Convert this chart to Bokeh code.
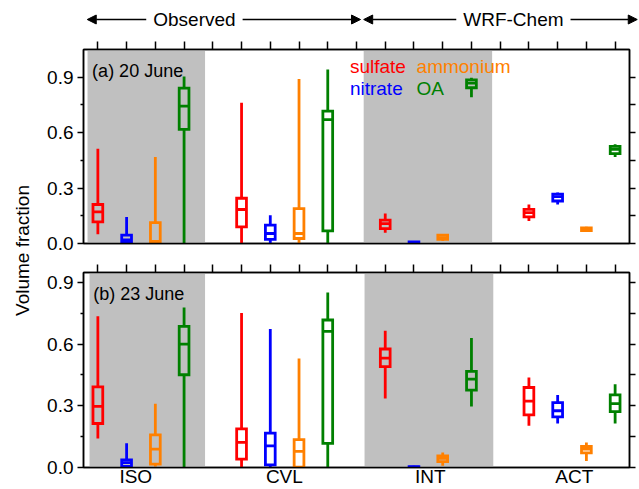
import numpy as np
from bokeh.plotting import figure
from bokeh.models import (Range1d, LinearAxis, FixedTicker, BoxAnnotation, Label,
                          Arrow, NormalHead, ColumnDataSource, PrintfTickFormatter)
from bokeh.layouts import column, row
from bokeh.embed import file_html
from bokeh.resources import INLINE

# ---------------- data ----------------
sites = ["ISO", "CVL", "INT", "ACT"]
species = ["sulfate", "nitrate", "ammonium", "OA"]
colors = ["#ff0000", "#0000ff", "#ff8000", "#008000"]
site_label_pos = [2.32, 7.49, 12.57, 17.58]
y_ticks = [0.0, 0.3, 0.6, 0.9]
y_minor = [0.15, 0.45, 0.75]

# Panel (a) 20 June; order: ISO(su,ni,am,OA), CVL(...), INT(...), ACT(...)
a_low  = [0.050, 0.000, 0.000, 0.000,  0.000, 0.000, 0.000, 0.000,
          0.058, 0.000, 0.014, 0.792,  0.122, 0.211, 0.063, 0.468]
a_q1   = [0.117, 0.010, 0.010, 0.618,  0.090, 0.022, 0.027, 0.068,
          0.081, 0.001, 0.022, 0.843,  0.144, 0.230, 0.070, 0.486]
a_med  = [0.171, 0.020, 0.012, 0.744,  0.184, 0.054, 0.054, 0.670,
          0.108, 0.004, 0.032, 0.868,  0.167, 0.254, 0.077, 0.510]
a_q3   = [0.211, 0.045, 0.113, 0.841,  0.245, 0.099, 0.189, 0.717,
          0.126, 0.008, 0.045, 0.886,  0.185, 0.267, 0.085, 0.526]
a_high = [0.513, 0.144, 0.468, 0.904,  0.762, 0.153, 0.891, 0.942,
          0.162, 0.014, 0.050, 0.897,  0.211, 0.276, 0.090, 0.537]

# Panel (b) 23 June
b_low  = [0.141, 0.000, 0.005, 0.000,  0.000, 0.000, 0.000, 0.000,
          0.336, 0.000, 0.008, 0.297,  0.203, 0.214, 0.032, 0.214]
b_q1   = [0.214, 0.005, 0.016, 0.451,  0.041, 0.013, 0.002, 0.117,
          0.490, 0.001, 0.029, 0.376,  0.256, 0.246, 0.071, 0.272]
b_med  = [0.297, 0.024, 0.089, 0.600,  0.122, 0.105, 0.078, 0.662,
          0.532, 0.002, 0.044, 0.430,  0.323, 0.276, 0.089, 0.311]
b_q3   = [0.392, 0.037, 0.159, 0.686,  0.188, 0.167, 0.136, 0.717,
          0.576, 0.004, 0.057, 0.467,  0.389, 0.315, 0.102, 0.353]
b_high = [0.735, 0.118, 0.310, 0.778,  0.751, 0.673, 0.530, 0.851,
          0.665, 0.008, 0.073, 0.629,  0.438, 0.353, 0.122, 0.405]

# ---------------- style / layout ----------------
FONT = "Liberation Sans"
BW = 0.34
LW = 2.8
GRAY = "#c0c0c0"
X0, X1 = 0.5, 19.5
LAB_W = 36
PANEL_W = 603
LEFT_B, RIGHT_B = 47, 10
FRAME_W = PANEL_W - LEFT_B - RIGHT_B
SC = FRAME_W / (X1 - X0)
HEADER_H = 38
PA_H, PB_H = 217, 234


def style_axis(ax):
    ax.axis_line_width = 1.5
    ax.major_tick_line_width = 1.5
    ax.minor_tick_line_width = 1.5
    ax.major_tick_in = 0
    ax.minor_tick_in = 0


def make_panel(height, top_b, bottom_b, ymax, low, q1, med, q3, high, shades,
               tag, tag_xy, site_labels):
    p = figure(width=PANEL_W, height=height, x_range=Range1d(X0, X1),
               y_range=Range1d(0, ymax), output_backend="svg", toolbar_location=None,
               min_border_left=LEFT_B, min_border_right=RIGHT_B,
               min_border_top=top_b, min_border_bottom=bottom_b,
               x_axis_location=None, y_axis_location=None)
    p.outline_line_color = "black"
    p.outline_line_width = 1.5
    p.grid.grid_line_color = None
    p.background_fill_color = "white"

    for (l, r) in shades:
        p.add_layout(BoxAnnotation(left=l, right=r, fill_color=GRAY, fill_alpha=1.0,
                                   line_color=None, level="underlay"))

    xs, cols = [], []
    for i in range(len(sites)):
        for j in range(len(species)):
            xs.append(5 * i + j + 1)
            cols.append(colors[j])
    src = ColumnDataSource(dict(x=xs, c=cols, low=low, q1=q1, med=med, q3=q3, high=high,
                                l=[x - BW / 2 for x in xs], r=[x + BW / 2 for x in xs]))
    p.segment(x0="x", y0="low", x1="x", y1="q1", line_color="c", line_width=LW, source=src)
    p.segment(x0="x", y0="q3", x1="x", y1="high", line_color="c", line_width=LW, source=src)
    p.quad(left="l", right="r", bottom="q1", top="q3", fill_color=None, line_color="c",
           line_width=LW, line_join="miter", source=src)
    p.segment(x0="l", y0="med", x1="r", y1="med", line_color="c", line_width=LW, source=src)

    # left axis (labelled)
    la = LinearAxis(ticker=FixedTicker(ticks=y_ticks, minor_ticks=y_minor),
                    formatter=PrintfTickFormatter(format="%.1f"))
    style_axis(la)
    la.major_tick_out = 6
    la.minor_tick_out = 3
    la.major_label_standoff = 4
    la.major_label_text_font = FONT
    la.major_label_text_font_size = "19px"
    la.major_label_text_color = "black"
    p.add_layout(la, "left")

    # right axis: ticks only (drawn as minor ticks so no labels)
    ra = LinearAxis(ticker=FixedTicker(ticks=[], minor_ticks=y_ticks + y_minor))
    style_axis(ra)
    ra.minor_tick_out = 6
    p.add_layout(ra, "right")

    # top axis: ticks only at every box position
    ta = LinearAxis(ticker=FixedTicker(ticks=[], minor_ticks=list(range(1, 20))))
    style_axis(ta)
    ta.minor_tick_out = 8
    p.add_layout(ta, "above")

    # bottom axis: line, and site names on the lower panel
    if site_labels:
        ba = LinearAxis(ticker=FixedTicker(ticks=site_label_pos, minor_ticks=[]))
        ba.major_label_overrides = {pos: s for pos, s in zip(site_label_pos, sites)}
        ba.major_label_text_font = FONT
        ba.major_label_text_font_size = "19px"
        ba.major_label_text_color = "black"
        ba.major_label_standoff = -2
        ba.major_tick_out = 0
    else:
        ba = LinearAxis(ticker=FixedTicker(ticks=[], minor_ticks=[]))
    style_axis(ba)
    ba.major_tick_line_color = None
    ba.minor_tick_line_color = None
    p.add_layout(ba, "below")

    p.add_layout(Label(x=tag_xy[0], y=tag_xy[1], text=tag, text_font=FONT,
                       text_font_size="18px", text_color="black",
                       text_align="left", text_baseline="middle"))
    return p


pa = make_panel(PA_H, 11, 12, 1.05, a_low, a_q1, a_med, a_q3, a_high,
                [(0.64, 4.73), (10.25, 14.72)], "(a) 20 June", (0.80, 0.936), False)
pb = make_panel(PB_H, 17, 22, 0.948, b_low, b_q1, b_med, b_q3, b_high,
                [(0.71, 4.73), (10.28, 14.76)], "(b) 23 June", (0.84, 0.843), True)

# legend text in panel (a)
leg = [("sulfate", 9.77, 0.958, colors[0]), ("ammonium", 12.09, 0.958, colors[2]),
       ("nitrate", 9.77, 0.839, colors[1]), ("OA", 12.09, 0.839, colors[3])]
for t, x, y, c in leg:
    pa.add_layout(Label(x=x, y=y, text=t, text_font=FONT, text_font_size="19px",
                        text_color=c, text_align="left", text_baseline="middle"))

# header with arrows
HW = LAB_W + PANEL_W
hx0 = X0 - (LAB_W + LEFT_B) / SC
hx1 = X1 + RIGHT_B / SC
header = figure(width=HW, height=HEADER_H, x_range=Range1d(hx0, hx1),
                y_range=Range1d(0, HEADER_H), output_backend="svg",
                toolbar_location=None, min_border=0,
                x_axis_location=None, y_axis_location=None)
header.outline_line_color = None
header.grid.grid_line_color = None
for (xs_, xe_, xt, txt) in [(0.63, 10.14, 4.36, "Observed"),
                            (10.25, 19.77, 15.46, "WRF-Chem")]:
    header.add_layout(Arrow(start=NormalHead(size=9, fill_color="black", line_color="black"),
                            end=NormalHead(size=9, fill_color="black", line_color="black"),
                            x_start=xs_, y_start=19, x_end=xe_, y_end=19,
                            line_width=1.5, line_color="black"))
    header.add_layout(Label(x=xt, y=19, text=txt, text_font=FONT, text_font_size="19px",
                            text_color="black", text_align="center", text_baseline="middle",
                            background_fill_color="white", padding=7))

# y-axis title
LAB_H = PA_H + PB_H
labfig = figure(width=LAB_W, height=LAB_H, x_range=Range1d(0, 1), y_range=Range1d(0, 1),
                output_backend="svg", toolbar_location=None, min_border=0,
                x_axis_location=None, y_axis_location=None)
labfig.outline_line_color = None
labfig.grid.grid_line_color = None
labfig.add_layout(Label(x=0.62, y=1 - 212 / LAB_H, text="Volume fraction", angle=np.pi / 2,
                        text_font=FONT, text_font_size="19px", text_color="black",
                        text_align="center", text_baseline="middle"))

layout = column(header, row(labfig, column(pa, pb)))

open("out.html", "w").write(file_html(layout, INLINE))
